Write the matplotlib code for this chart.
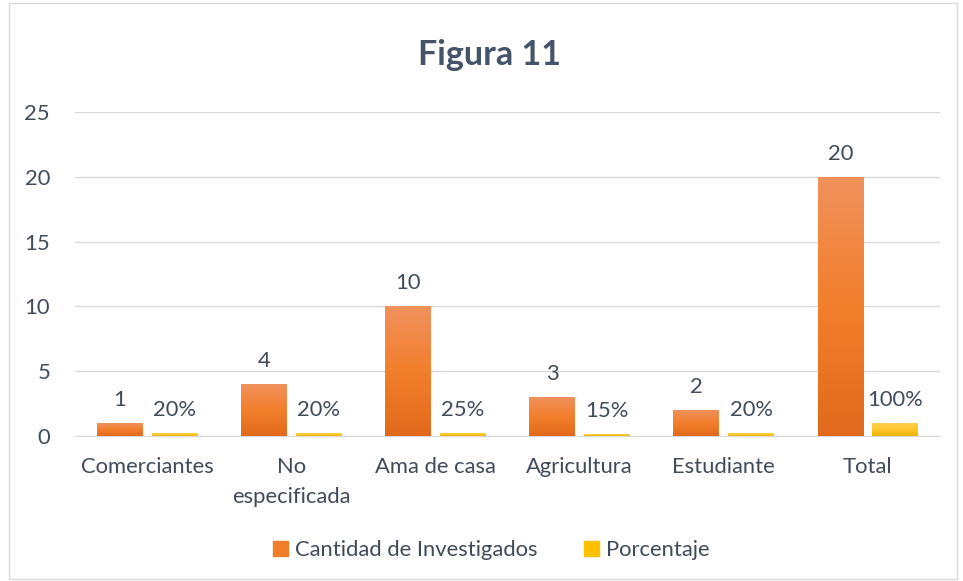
import matplotlib
matplotlib.use("Agg")
import matplotlib.pyplot as plt
import numpy as np
from matplotlib.colors import LinearSegmentedColormap
from matplotlib.patches import Rectangle

categories = ["Comerciantes", "No\nespecificada", "Ama de casa", "Agricultura", "Estudiante", "Total"]
cantidad = [1, 4, 10, 3, 2, 20]
porcentaje = [0.20, 0.20, 0.25, 0.15, 0.20, 1.00]
porcentaje_labels = ["20%", "20%", "25%", "15%", "20%", "100%"]
series_names = ["Cantidad de Investigados", "Porcentaje"]

plt.rcParams['font.family'] = ['Lato', 'DejaVu Sans']
text_color = "#404B5A"
fs = 15.8

fig = plt.figure(figsize=(9.63, 5.81), dpi=100)
ax = fig.add_axes([0.078, 0.2496, 0.898, 0.5577])

x = np.arange(len(categories))
w = 0.317
off = 0.19
orange_cmap = LinearSegmentedColormap.from_list("o", ["#E2691C", "#F27F2C", "#F0915C"])
yellow_cmap = LinearSegmentedColormap.from_list("y", ["#EDB400", "#FFC72E", "#FFD050"])

b1 = ax.bar(x - off, cantidad, w, color="#F07D2A", zorder=2)
b2 = ax.bar(x + off, porcentaje, w, color="#FFC000", zorder=2)

grad = np.linspace(0, 1, 256).reshape(-1, 1)
for bars, cmap in ((b1, orange_cmap), (b2, yellow_cmap)):
    for b in bars:
        x0, y0 = b.get_x(), b.get_y()
        bw, bh = b.get_width(), b.get_height()
        im = ax.imshow(grad, cmap=cmap, origin="lower", aspect="auto",
                       extent=[x0, x0 + bw, y0, y0 + bh], zorder=3)
        im.set_clip_path(b)

for xi, v in zip(x, cantidad):
    ax.text(xi - off, v + 1.0, str(v), ha="center", va="bottom", fontsize=fs, color=text_color)
for xi, v, lab in zip(x, porcentaje, porcentaje_labels):
    ax.text(xi + off, v + 1.0, lab, ha="center", va="bottom", fontsize=fs, color=text_color)

ax.set_xlim(-0.5, len(categories) - 0.5)
ax.set_ylim(0, 25)
ax.set_yticks([0, 5, 10, 15, 20, 25])
ax.set_xticks(x)
ax.set_xticklabels(categories, fontsize=fs, color=text_color, linespacing=1.65)
ax.tick_params(axis="y", labelsize=fs, colors=text_color, length=0, pad=18)
ax.tick_params(axis="x", length=0, pad=15)
ax.grid(axis="y", color="#D9D9D9", linewidth=1.0, zorder=0)
ax.set_axisbelow(True)
for s in ["top", "right", "left"]:
    ax.spines[s].set_visible(False)
ax.spines["bottom"].set_color("#D9D9D9")
ax.spines["bottom"].set_zorder(1)

fig.text(0.508, 0.905, "Figura 11", ha="center", va="center", fontsize=24.5,
         fontweight="bold", color="#44546A")

handles = [Rectangle((0, 0), 1, 1, color="#F07D2A"), Rectangle((0, 0), 1, 1, color="#FFC000")]
fig.legend(handles, series_names, loc="center", bbox_to_anchor=(0.51, 0.053), ncol=2,
           frameon=False, fontsize=fs, handlelength=0.7, handleheight=0.7,
           handletextpad=0.3, columnspacing=2.1, labelcolor=text_color)

fig.patches.append(Rectangle((0.009, 0.004), 0.985, 0.99, transform=fig.transFigure,
                             fill=False, edgecolor="#D9D9D9", linewidth=1.0))

fig.savefig("out.png", dpi=100)
